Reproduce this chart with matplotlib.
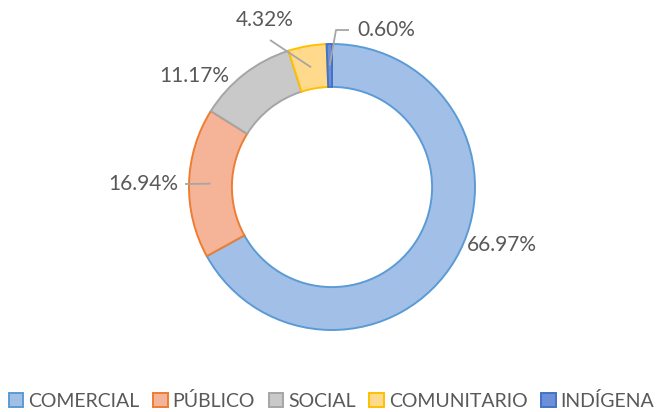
import numpy as np
import matplotlib.pyplot as plt
from matplotlib.patches import Patch

plt.rcParams['font.family'] = ['Lato', 'DejaVu Sans']

categories = ["COMERCIAL", "PÚBLICO", "SOCIAL", "COMUNITARIO", "INDÍGENA"]
values = [66.97, 16.94, 11.17, 4.32, 0.60]
labels = ["66.97%", "16.94%", "11.17%", "4.32%", "0.60%"]

fills = ["#A2C0E7", "#F5B398", "#C9C9C9", "#FFD98C", "#6B8FD8"]
edges = ["#5B9BD5", "#ED7D31", "#A5A5A5", "#FFC000", "#4472C4"]
txt = "#595959"
lead = "#A6A6A6"

W, H = 663, 412
cx, cy, R = 332, H - 187, 143

fig = plt.figure(figsize=(W / 100, H / 100), dpi=100)
ax = fig.add_axes([0, 0, 1, 1])
wedges, _ = ax.pie(values, colors=fills, startangle=90, counterclock=False,
                   radius=R, center=(cx, cy),
                   wedgeprops=dict(width=R * 0.3, linewidth=1.4))
for w, e in zip(wedges, edges):
    w.set_edgecolor(e)
ax.set_xlim(0, W)
ax.set_ylim(0, H)
ax.set_aspect('equal')
ax.axis('off')

# label placement (pixels from top-left): text pos, ha, leader path after anchor
place = [
    ((467, 245), 'left', None),
    ((178, 184), 'right', [(185, 184)]),
    ((229, 76), 'right', None),
    ((265, 20), 'center', [(270, 40)]),
    ((357, 30), 'left', [(336, 30), (349, 30)]),
]

rm = R * 0.85
for w, lab, (pos, ha, path) in zip(wedges, labels, place):
    mid = np.deg2rad((w.theta1 + w.theta2) / 2)
    ax_, ay_ = cx + rm * np.cos(mid), cy + rm * np.sin(mid)
    if path:
        xs = [ax_] + [p[0] for p in path]
        ys = [ay_] + [H - p[1] for p in path]
        ax.plot(xs, ys, color=lead, lw=1.3, solid_capstyle='butt')
    ax.text(pos[0], H - pos[1], lab, ha=ha, va='center', fontsize=15, color=txt)

handles = [Patch(facecolor=f, edgecolor=e, lw=1.4) for f, e in zip(fills, edges)]
fig.legend(handles, categories, loc='center', bbox_to_anchor=(0.5, 1 - 401 / H),
           ncol=5, frameon=False, handlelength=0.75, handleheight=0.75,
           handletextpad=0.25, columnspacing=0.7, fontsize=14, labelcolor=txt)

plt.savefig("out.png", dpi=100)
